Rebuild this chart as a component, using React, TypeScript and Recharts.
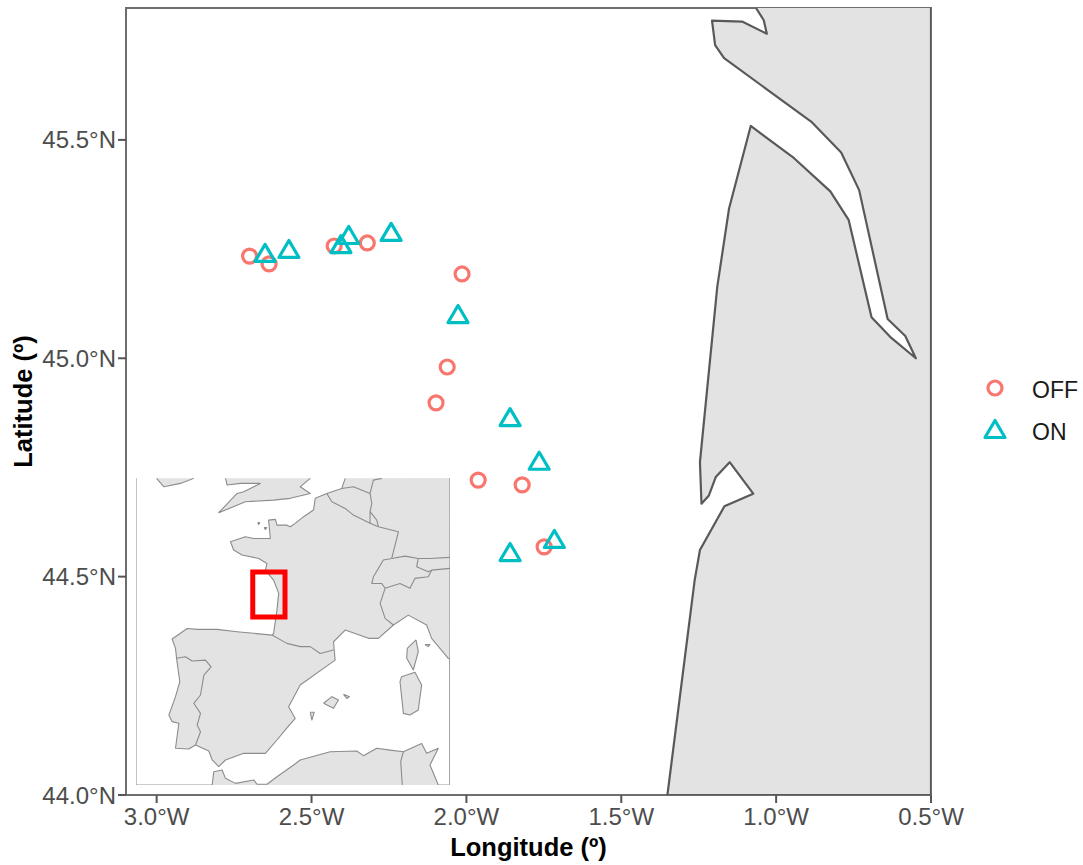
import React from 'react';
import { ScatterChart, Scatter, XAxis, YAxis, ReferenceArea, ReferenceLine, Legend } from 'recharts';

type P = [number, number];
const pts = (a: P[]) => a.map(([lon, lat]) => ({ lon, lat }));

// ---- main map values (longitude, latitude) ----
const offStations: P[] = [
  [-2.7, 45.234], [-2.637, 45.216], [-2.427, 45.257], [-2.32, 45.264], [-2.014, 45.193],
  [-2.062, 44.98], [-2.098, 44.898], [-1.962, 44.721], [-1.82, 44.71], [-1.749, 44.568],
];
const onStations: P[] = [
  [-2.65, 45.239], [-2.573, 45.248], [-2.405, 45.259], [-2.38, 45.28], [-2.243, 45.287],
  [-2.027, 45.099], [-1.859, 44.863], [-1.765, 44.763], [-1.716, 44.584], [-1.859, 44.554],
];
const coastLand: P[] = [
  [-1.065, 45.802], [-1.04, 45.774], [-1.03, 45.743], [-1.11, 45.771], [-1.207, 45.773],
  [-1.197, 45.717], [-1.168, 45.687], [-0.887, 45.542], [-0.79, 45.471], [-0.732, 45.385],
  [-0.64, 45.09], [-0.583, 45.051], [-0.549, 45.0], [-0.632, 45.049], [-0.692, 45.094],
  [-0.766, 45.317], [-0.825, 45.382], [-0.942, 45.458], [-1.082, 45.532], [-1.152, 45.343],
  [-1.19, 45.164], [-1.246, 44.762], [-1.241, 44.667], [-1.217, 44.686], [-1.195, 44.728],
  [-1.15, 44.762], [-1.074, 44.69], [-1.167, 44.661], [-1.246, 44.561], [-1.263, 44.492],
  [-1.351, 44.0], [-0.5, 44.0], [-0.5, 45.802],
];

// ---- inset map values (longitude, latitude) ----
const continent: P[] = [
  [3.89, 52.04], [3.64, 51.48], [2.52, 51.2], [1.66, 50.93], [1.53, 50.28], [0.79, 49.91], [0.17, 49.54], [-0.2, 49.35],
  [-0.45, 49.44], [-1.19, 49.44], [-1.31, 49.76], [-1.81, 49.72], [-1.68, 48.7], [-2.92, 48.7], [-3.54, 48.8], [-4.65, 48.52],
  [-4.41, 48.06], [-3.79, 47.78], [-2.55, 47.59], [-1.93, 47.31], [-2.05, 46.94], [-1.44, 46.39], [-1.06, 45.65], [-1.19, 44.72],
  [-1.44, 43.43], [-1.56, 43.33], [-2.92, 43.43], [-4.16, 43.52], [-5.64, 43.65], [-7.13, 43.65], [-7.87, 43.7], [-8.99, 43.11],
  [-8.74, 42.59], [-8.66, 42.04], [-8.42, 40.74], [-8.74, 39.91], [-9.23, 38.89], [-8.99, 38.52], [-8.49, 38.43], [-8.74, 37.04],
  [-7.75, 37.0], [-7.25, 37.22], [-6.26, 36.89], [-6.01, 36.39], [-5.52, 36.02], [-5.02, 36.39], [-3.66, 36.76], [-2.05, 36.76],
  [-1.19, 37.5], [-0.57, 38.06], [0.17, 38.7], [-0.32, 39.35], [0.54, 40.56], [3.14, 41.94], [3.02, 42.96], [3.89, 43.61],
  [5.62, 43.15], [6.36, 43.15], [7.48, 43.89], [8.59, 44.44], [9.95, 43.89], [10.32, 43.15], [11.56, 42.04], [11.69, 42.0], [11.69, 52.06],
];
const britain: P[] = [
  [-5.02, 52.04], [-4.9, 51.67], [-3.91, 51.76], [-2.43, 51.76], [-3.66, 51.3], [-4.16, 51.2], [-5.52, 50.13], [-3.54, 50.74],
  [-1.44, 50.83], [-0.2, 50.93], [1.29, 51.2], [0.54, 51.57], [1.29, 52.04],
];
const ireland: P[] = [[-10.15, 52.04], [-9.6, 51.57], [-8.37, 51.76], [-7.38, 52.04]];
const africa: P[] = [
  [-6.01, 35.0], [-5.89, 35.74], [-5.27, 35.83], [-5.02, 35.37], [-4.28, 35.09], [-2.92, 35.28], [-2.67, 35.04], [-1.93, 35.04],
  [-1.19, 35.46], [0.05, 36.11], [0.54, 36.39], [2.77, 36.85], [4.75, 36.89], [5.25, 36.63], [6.24, 37.04], [7.23, 36.94],
  [8.22, 36.85], [9.58, 37.31], [9.95, 36.76], [10.82, 37.04], [10.2, 36.11], [10.82, 35.0],
];
const mallorca: P[] = [[2.28, 39.54], [2.9, 39.91], [3.39, 39.72], [3.02, 39.26], [2.28, 39.54]];
const menorca: P[] = [[3.76, 40.04], [4.21, 39.91], [4.01, 39.81], [3.76, 40.04]];
const ibiza: P[] = [[1.29, 39.04], [1.58, 39.04], [1.41, 38.61], [1.29, 39.04]];
const corsica: P[] = [[9.16, 43.06], [9.33, 42.41], [8.96, 41.39], [8.47, 42.04], [8.51, 42.59], [9.16, 43.06]];
const sardinia: P[] = [[8.09, 41.02], [9.08, 41.26], [9.58, 40.56], [9.33, 39.17], [8.71, 38.89], [8.22, 38.98], [7.97, 40.74], [8.09, 41.02]];
const elba: P[] = [[9.83, 42.81], [10.2, 42.81], [10.07, 42.69], [9.83, 42.81]];
const jersey: P[] = [[-2.62, 49.58], [-2.48, 49.58], [-2.55, 49.48], [-2.62, 49.58]];
const guernsey: P[] = [[-2.15, 49.3], [-1.95, 49.3], [-2.05, 49.2], [-2.15, 49.3]];
const islands: P[][] = [mallorca, menorca, ibiza, corsica, sardinia, elba, jersey, guernsey];

const borders: P[][] = [
  [[-1.56, 43.33], [-0.45, 42.87], [0.54, 42.69], [1.29, 42.69], [2.03, 42.31], [3.02, 42.5]],
  [[-8.66, 42.04], [-8.0, 42.13], [-7.5, 41.89], [-6.51, 41.94], [-6.09, 41.57], [-6.63, 41.11], [-6.88, 40.0], [-7.38, 39.54], [-6.88, 38.98], [-7.13, 38.33], [-6.88, 37.96], [-7.25, 37.22]],
  [[2.52, 51.2], [2.9, 50.74], [3.89, 50.37], [4.5, 50.0], [5.74, 49.54], [6.36, 49.35], [7.85, 49.07], [7.35, 47.59]],
  [[5.74, 49.54], [5.74, 50.19], [6.24, 49.72], [6.36, 49.35]],
  [[5.74, 50.19], [5.87, 50.65], [5.74, 51.2]],
  [[3.64, 51.48], [4.5, 51.57], [5.74, 51.2], [5.99, 51.94], [6.61, 52.04]],
  [[7.35, 47.59], [6.73, 47.5], [5.99, 46.57], [5.87, 46.2], [6.61, 46.2], [6.86, 45.93], [6.49, 45.09], [6.86, 44.26], [7.48, 43.89]],
  [[6.86, 45.93], [7.97, 46.2], [8.71, 45.93], [9.08, 46.48], [10.07, 46.57], [10.32, 46.94], [11.68, 47.04]],
  [[7.35, 47.59], [8.34, 47.72], [9.33, 47.59], [9.21, 47.13], [10.07, 46.85], [10.32, 46.94]],
  [[9.33, 47.59], [10.2, 47.59], [11.68, 47.65]],
  [[8.22, 36.85], [8.02, 36.3], [8.14, 35.0]],
];
const studyBox: P[] = [[-2.99, 44.34], [-2.99, 46.84], [-0.59, 46.84], [-0.59, 44.34], [-2.99, 44.34]];

// ---- axes ----
const lonTicks = [-3, -2.5, -2, -1.5, -1, -0.5];
const latTicks = [44, 44.5, 45, 45.5];
const lonDomain: [number, number] = [-3.099, -0.5];
const latDomain: [number, number] = [44, 45.802];
const insetLonDomain: [number, number] = [-11.68, 11.69];
const insetLatDomain: [number, number] = [35, 52.06];

const OFF_C = '#F8766D';
const ON_C = '#00BFC4';
const LAND = '#e3e3e3';
const TICK_C = '#4d4d4d';
const FONT = '"Liberation Sans", Arial, sans-serif';
const tickStyle = { fontSize: 24, fill: TICK_C, fontFamily: FONT };
const titleStyle = { fontSize: 25.5, fontWeight: 700, fill: '#000', fontFamily: FONT };

const noDot = () => <g />;
const Circle = ({ cx, cy }: any) => <circle cx={cx} cy={cy} r={7} fill="none" stroke={OFF_C} strokeWidth={3.2} />;
const Tri = ({ cx, cy }: any) => (
  <polygon points={`${cx},${cy - 9.5} ${cx + 10},${cy + 7.5} ${cx - 10},${cy + 7.5}`} fill="none" stroke={ON_C} strokeWidth={3.2} strokeLinejoin="round" />
);

const legendItems = [
  { name: 'OFF', icon: <circle cx={16} cy={14} r={7} fill="none" stroke={OFF_C} strokeWidth={3.2} /> },
  { name: 'ON', icon: <polygon points="16,4.5 26,21.5 6,21.5" fill="none" stroke={ON_C} strokeWidth={3.2} strokeLinejoin="round" /> },
];
const LegendBox = () => (
  <div style={{ fontFamily: FONT, fontSize: 23, color: '#1a1a1a' }}>
    {legendItems.map((it) => (
      <div key={it.name} style={{ display: 'flex', alignItems: 'center', height: 42 }}>
        <svg width={32} height={28} style={{ display: 'block' }}>{it.icon}</svg>
        <span style={{ marginLeft: 21, position: 'relative', top: 2 }}>{it.name}</span>
      </div>
    ))}
  </div>
);

const fillLine = (fill: string, stroke: string, w: number) => ({ fill, stroke, strokeWidth: w, strokeLinejoin: 'round' as const });

const Inset = () => (
  <div style={{ position: 'absolute', left: 136, top: 478, width: 314, height: 307, background: '#fff' }}>
    <ScatterChart width={314} height={307} margin={{ top: 0, right: 0, bottom: 0, left: 0 }}>
      <XAxis hide type="number" dataKey="lon" domain={insetLonDomain} allowDataOverflow />
      <YAxis hide type="number" dataKey="lat" domain={insetLatDomain} allowDataOverflow />
      {[continent, britain, ireland, africa, ...islands].map((poly, i) => (
        <Scatter key={`p${i}`} data={pts(poly)} isAnimationActive={false} shape={noDot} line={fillLine(LAND, '#8c8c8c', 1.1)} lineType="joint" />
      ))}
      {borders.map((b, i) => (
        <Scatter key={`b${i}`} data={pts(b)} isAnimationActive={false} shape={noDot} line={fillLine('none', '#8c8c8c', 1.1)} lineType="joint" />
      ))}
      <ReferenceLine x={insetLonDomain[0]} stroke="#9a9a9a" strokeWidth={1.2} />
      <ReferenceLine x={insetLonDomain[1]} stroke="#8c8c8c" strokeWidth={1.6} />
      <ReferenceLine y={insetLatDomain[0]} stroke="#9a9a9a" strokeWidth={1.2} />
      <Scatter name="study area" data={pts(studyBox)} isAnimationActive={false} shape={noDot} line={{ fill: 'none', stroke: '#ff0000', strokeWidth: 5, strokeLinejoin: 'miter', strokeLinecap: 'square' }} lineType="joint" />
    </ScatterChart>
  </div>
);

export default function App() {
  return (
    <div style={{ position: 'absolute', left: 0, top: 0, width: 1083, height: 865, background: '#fff' }}>
      <ScatterChart width={1083} height={865} margin={{ top: 8, right: 152, bottom: 0, left: 0 }}>
        <XAxis
          type="number"
          dataKey="lon"
          domain={lonDomain}
          ticks={lonTicks}
          allowDataOverflow
          height={70}
          axisLine={false}
          tickLine={{ stroke: '#555', strokeWidth: 2 }}
          tickSize={8}
          tickMargin={5}
          tick={tickStyle}
          tickFormatter={(v: number) => `${Math.abs(v).toFixed(1)}°W`}
          label={{ value: 'Longitude (º)', position: 'insideBottom', offset: 9, style: titleStyle }}
        />
        <YAxis
          type="number"
          dataKey="lat"
          domain={latDomain}
          ticks={latTicks}
          allowDataOverflow
          width={126}
          axisLine={false}
          tickLine={{ stroke: '#555', strokeWidth: 2 }}
          tickSize={8}
          tick={tickStyle}
          tickFormatter={(v: number) => `${v.toFixed(1)}°N`}
          label={{ value: 'Latitude (º)', angle: -90, position: 'insideLeft', offset: 0, dx: 23, style: { ...titleStyle, textAnchor: 'middle' } }}
        />
        <Legend layout="vertical" align="center" verticalAlign="middle" content={<LegendBox />} wrapperStyle={{ left: 979, top: 367, width: 104 }} />
        <Scatter name="land" legendType="none" data={pts(coastLand)} isAnimationActive={false} shape={noDot} line={fillLine(LAND, '#595959', 2.2)} lineType="joint" />
        <Scatter name="OFF" data={pts(offStations)} isAnimationActive={false} shape={<Circle />} />
        <Scatter name="ON" data={pts(onStations)} isAnimationActive={false} shape={<Tri />} />
        <ReferenceArea x1={lonDomain[0]} x2={lonDomain[1]} y1={latDomain[0]} y2={latDomain[1]} fill="none" fillOpacity={0} stroke="#6e6e6e" strokeWidth={2} strokeOpacity={1} />
      </ScatterChart>
      <Inset />
    </div>
  );
}
